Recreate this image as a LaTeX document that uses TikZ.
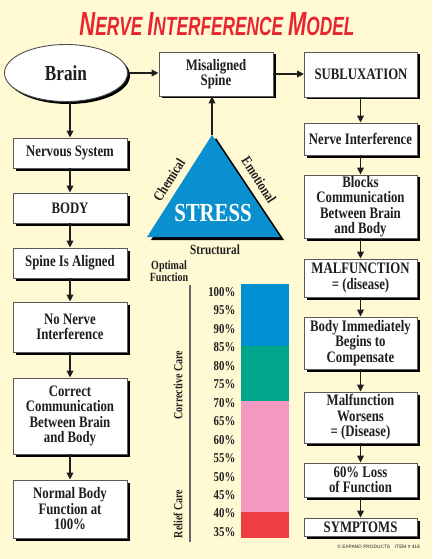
\documentclass[tikz,border=0pt]{standalone}
\usepackage{fontspec}
\setmainfont{Liberation Serif}
\newfontfamily\cond[FakeStretch=0.8]{Liberation Serif}
\newfontfamily\titlefont{Liberation Sans}
\usetikzlibrary{shadows,arrows.meta,shapes.geometric}
\definecolor{bg}{HTML}{FFFAD4}
\definecolor{titlered}{HTML}{E8262F}
\definecolor{tri}{HTML}{0A90CF}
\definecolor{barblue}{HTML}{0090D2}
\definecolor{barteal}{HTML}{00A68C}
\definecolor{barpink}{HTML}{F49AC1}
\definecolor{barred}{HTML}{EE3E44}
\definecolor{ink}{HTML}{1E1E1E}
\begin{document}
\begin{tikzpicture}[x=1pt,y=-1pt,
  every node/.style={text=ink},
  shade box/.style={drop shadow={shadow xshift=2.5pt,shadow yshift=-2.5pt,fill=black,opacity=1}},
  box/.style={draw=black!65, line width=0.8pt, fill=white, align=center, inner sep=1pt,
    font=\cond\bfseries\fontsize{16}{15.5}\selectfont, shade box},
  lbox/.style={box, minimum width=114pt},
  rbox/.style={box, minimum width=113pt},
  arr/.style={line width=1.8pt, draw=ink, -{Triangle[length=7pt,width=6.5pt]}},
  pct/.style={anchor=east, inner sep=0pt, font=\cond\bfseries\fontsize{13.5}{14}\selectfont},
  side/.style={inner sep=0pt, font=\cond\bfseries\fontsize{14.5}{15}\selectfont}]
\useasboundingbox (0,0) rectangle (432,559);
\fill[bg] (0,0) rectangle (432,559);
% title
\node[inner sep=0pt, text=titlered] (title) at (217,24)
  {\resizebox{275pt}{23pt}{\titlefont\bfseries\itshape\fontsize{33}{33}\selectfont N\fontsize{26}{26}\selectfont ERVE \fontsize{33}{33}\selectfont I\fontsize{26}{26}\selectfont NTERFERENCE \fontsize{33}{33}\selectfont M\fontsize{26}{26}\selectfont ODEL}};
% brain
\node[ellipse, draw=black!70, line width=0.9pt, fill=white, minimum width=123pt, minimum height=57pt, shade box,
  font=\cond\bfseries\fontsize{21.5}{21.5}\selectfont] (brain) at (66,73) {Brain};
% top row
\node[box, minimum width=114pt, minimum height=44pt] (mis) at (216,74) {Misaligned\\Spine};
\node[rbox, minimum height=45pt] (sub) at (361,74.5) {SUBLUXATION};
% left column
\node[lbox, minimum height=30pt] (ns) at (70,153) {Nervous System};
\node[lbox, minimum height=30pt] (body) at (70,208) {BODY};
\node[lbox, minimum height=30pt] (spine) at (70,263) {Spine Is Aligned};
\node[lbox, minimum height=50pt] (nonerve) at (70,327) {No Nerve\\Interference};
\node[lbox, minimum height=76pt] (correct) at (70,416) {Correct\\Communication\\Between Brain\\and Body};
\node[lbox, minimum height=58pt] (normal) at (70,509) {Normal Body\\Function at\\100\%};
% right column
\node[rbox, minimum height=32pt] (ni) at (360.5,139) {Nerve Interference};
\node[rbox, minimum height=63pt] (blocks) at (360.5,206.5) {Blocks\\Communication\\Between Brain\\and Body};
\node[rbox, minimum height=38pt] (malf) at (360.5,278) {MALFUNCTION\\= (disease)};
\node[rbox, minimum height=52pt] (comp) at (360.5,343) {Body Immediately\\Begins to\\Compensate};
\node[rbox, minimum height=51pt] (worse) at (360.5,417.5) {Malfunction\\Worsens\\= (Disease)};
\node[rbox, minimum height=34pt] (loss) at (360.5,480) {60\% Loss\\of Function};
\node[rbox, minimum height=18pt] (symp) at (360.5,527) {SYMPTOMS};
% arrows
\draw[arr] (brain.east) -- (brain.east -| mis.west);
\draw[arr] (mis.east) -- (mis.east -| sub.west);
\draw[arr] (brain.south -| ns.north) -- (ns.north);
\draw[arr] (ns) -- (body);
\draw[arr] (body) -- (spine);
\draw[arr] (spine) -- (nonerve);
\draw[arr] (nonerve) -- (correct);
\draw[arr] (correct) -- (normal);
\draw[arr] (sub.south -| ni.north) -- (ni.north);
\draw[arr] (ni) -- (blocks);
\draw[arr] (blocks) -- (malf);
\draw[arr] (malf) -- (comp);
\draw[arr] (comp) -- (worse);
\draw[arr] (worse) -- (loss);
\draw[arr] (loss) -- (symp);
% stress triangle
\coordinate (apex) at (212,135);
\coordinate (tl) at (147,237);
\coordinate (tr) at (280,237);
\fill[black] ([shift={(4,3)}]apex) -- ([shift={(4,3)}]tl) -- ([shift={(4,3)}]tr) -- cycle;
\fill[tri] (apex) -- (tl) -- (tr) -- cycle;
\draw[arr] (apex) -- (apex |- mis.south);
\node[inner sep=0pt, text=white, font=\cond\bfseries\fontsize{26}{26}\selectfont] (stress) at (213,213) {STRESS};
\node[side, rotate=57.5] (chem) at (169,180) {Chemical};
\node[side, rotate=-57.5] (emo) at (259,180) {Emotional};
\node[side, font=\cond\bfseries\fontsize{14}{15}\selectfont] (struct) at (215,250) {Structural};
% scale
\node[side, align=center, font=\cond\bfseries\fontsize{12.5}{12.5}\selectfont] (opt) at (169,271) {Optimal\\Function};
\draw[line width=1.5pt, draw=black!60] (190,285) coordinate (ltop) -- (190,542) coordinate (lbot);
\node[side, rotate=90, font=\cond\bfseries\fontsize{12.5}{13}\selectfont] (corr) at (178,385) {Corrective Care};
\node[side, rotate=90, font=\cond\bfseries\fontsize{12.5}{13}\selectfont] (relief) at (178,514) {Relief Care};
\foreach \p [count=\i from 0] in {100,95,90,85,80,75,70,65,60,55,50,45,40,35}
  \node[pct] (p\p) at (235.5,{292+18.46*\i}) {\p\%};
\fill[barblue] (241,284) rectangle (289,346);
\fill[barteal] (241,346) rectangle (289,401);
\fill[barpink] (241,401) rectangle (289,512);
\fill[barred] (241,512) rectangle (289,538);
% footer
\node[anchor=east, inner sep=0pt, font=\titlefont\fontsize{4.8}{5}\selectfont] (copy) at (420,547) {© EXPANO PRODUCTS\quad ITEM \# 418};
\end{tikzpicture}
\end{document}
